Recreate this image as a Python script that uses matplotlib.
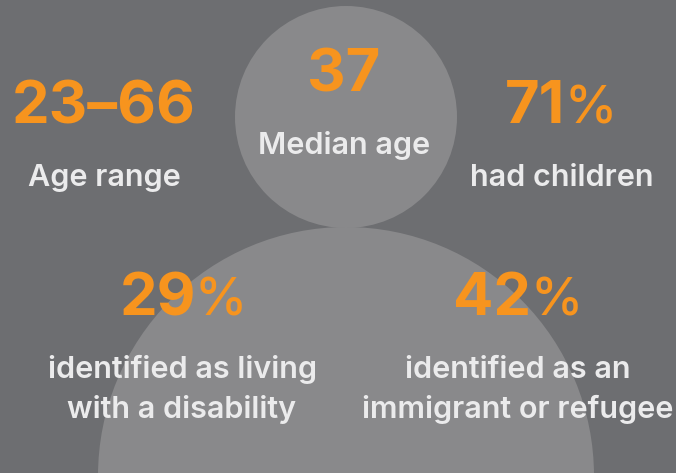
import matplotlib
matplotlib.use("Agg")
import matplotlib.pyplot as plt
from matplotlib.patches import Circle, Ellipse

plt.rcParams['font.family'] = ['Inter', 'DejaVu Sans']

stats = ["23\u201366", "37"]
pct_stats = ["71", "29", "42"]
labels = ["Age range", "Median age", "had children",
          "identified as living", "with a disability",
          "identified as an", "immigrant or refugee"]
# baseline positions
stat_pos = [(104, 123), (344, 92)]
pct_pos = [(565, 123), (196, 315), (531, 315)]
label_pos = [(104, 186), (344, 154), (562, 186),
             (182, 378), (182, 418), (518, 378), (518, 418)]

orange = "#f7941e"
white = "#ebebec"

fig = plt.figure(figsize=(6.76, 4.73), dpi=100, facecolor="#6d6e71")
ax = fig.add_axes([0, 0, 1, 1])
ax.set_xlim(0, 676)
ax.set_ylim(473, 0)
ax.axis("off")

ax.add_patch(Circle((346, 117), 111, color="#89898b", lw=0))
ax.add_patch(Ellipse((346, 476), 496, 498, color="#89898b", lw=0))

for s, (x, y) in zip(stats, stat_pos):
    ax.text(x, y, s, color=orange, fontsize=43, fontweight="bold", ha="center", va="baseline")
# percent sign is lighter than the digits
for s, (x, y) in zip(pct_stats, pct_pos):
    ax.text(x, y, s, color=orange, fontsize=43, fontweight="bold", ha="right", va="baseline")
    ax.text(x - 1, y, "%", color=orange, fontsize=38, fontweight="medium", ha="left", va="baseline")
for s, (x, y) in zip(labels, label_pos):
    ax.text(x, y, s, color=white, fontsize=22, fontweight="semibold", ha="center", va="baseline")

fig.savefig("out.png", dpi=100)
